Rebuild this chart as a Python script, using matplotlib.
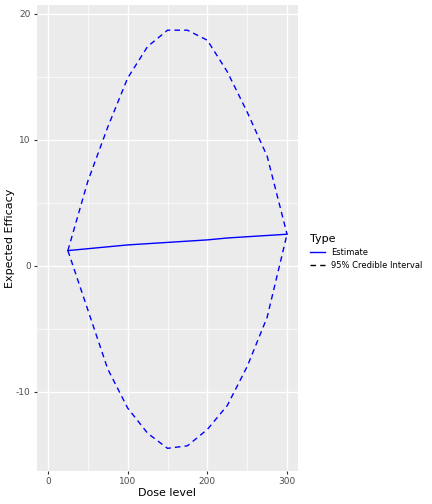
import numpy as np
import matplotlib.pyplot as plt
from matplotlib.lines import Line2D

plt.rcParams['axes.unicode_minus'] = False

dose = [25, 50, 75, 100, 125, 150, 175, 200, 225, 250, 275, 300]
estimate = [1.2, 1.35, 1.5, 1.65, 1.75, 1.85, 1.95, 2.05, 2.2, 2.3, 2.4, 2.5]
upper = [1.2, 6.7, 11.0, 14.9, 17.4, 18.7, 18.7, 17.9, 15.4, 12.2, 8.7, 2.5]
lower = [1.2, -3.5, -8.2, -11.3, -13.3, -14.5, -14.3, -13.0, -11.1, -8.0, -4.1, 2.5]

fig = plt.figure(figsize=(4.32, 5.04), dpi=100)
ax = fig.add_axes([37 / 432, 33 / 504, 261 / 432, 466 / 504])
ax.set_facecolor('#EBEBEB')
ax.plot(dose, estimate, color='blue', lw=1)
ax.plot(dose, upper, color='blue', lw=1, ls=(0, (4, 3)))
ax.plot(dose, lower, color='blue', lw=1, ls=(0, (4, 3)))

ax.set_xlim(-13.75, 313.75)
ax.set_ylim(-16.3, 20.7)
ax.set_xticks([0, 100, 200, 300])
ax.set_xticks([50, 150, 250], minor=True)
ax.set_yticks([-10, 0, 10, 20])
ax.set_yticks([-5, 5, 15], minor=True)
ax.grid(True, which='major', color='white', lw=1)
ax.grid(True, which='minor', color='white', lw=0.5)
ax.set_axisbelow(True)
for s in ax.spines.values():
    s.set_visible(False)
ax.tick_params(which='both', length=2.5, color='#333333', labelsize=6.5, labelcolor='#4D4D4D', pad=2)
ax.tick_params(which='minor', length=0)
ax.set_xlabel('Dose level', fontsize=8, labelpad=1)
ax.set_ylabel('Expected Efficacy', fontsize=8, labelpad=1)

handles = [Line2D([], [], color='blue', lw=1, label='Estimate'),
           Line2D([], [], color='black', lw=1, ls=(0, (4, 3)), label='95% Credible Interval')]
leg = fig.legend(handles=handles, title='Type', loc='center left', bbox_to_anchor=(302 / 432, 0.5),
                 frameon=False, fontsize=6, title_fontsize=8, handlelength=1.8)
leg._legend_box.align = 'left'

fig.savefig('out.png', dpi=100)
